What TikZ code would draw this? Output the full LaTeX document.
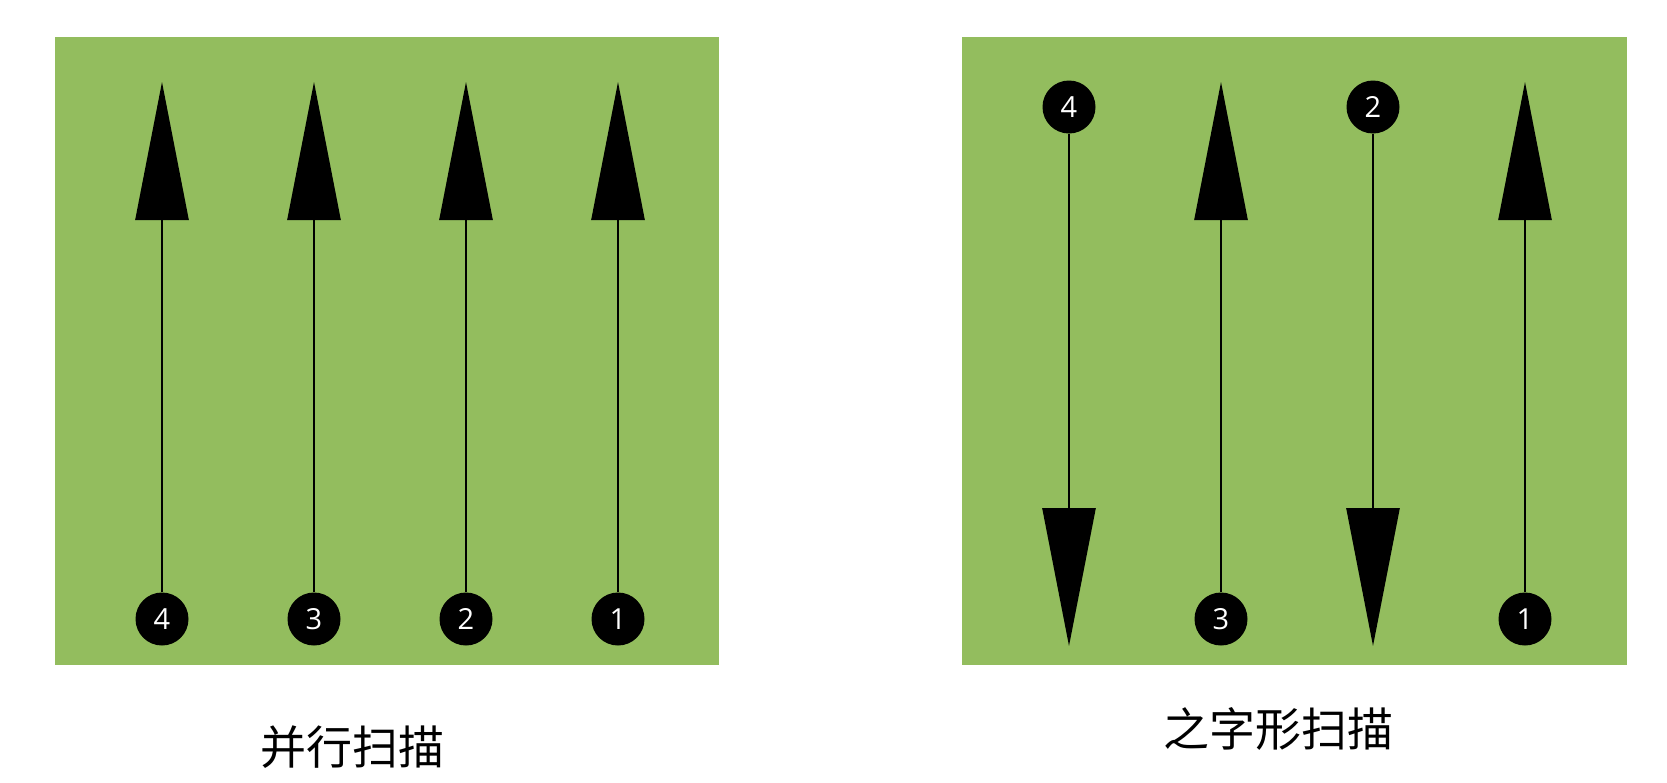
\documentclass[tikz,border=0pt]{standalone}
\usepackage{fontspec}
\newfontfamily\cjk{Noto Sans CJK SC}
\newfontfamily\numfont{Open Sans}
\usepackage{tikz}
\usetikzlibrary{arrows.meta}
\definecolor{scangreen}{RGB}{147,189,94}

\begin{document}
\begin{tikzpicture}[x=1pt,y=-1pt,
  pt/.style={circle,fill=black,minimum size=53pt,inner sep=0pt,text=white,font=\numfont\fontsize{29}{30}\selectfont},
  scan/.style={line width=2.6pt,-{Triangle[length=138pt,width=53pt]}},
  lbl/.style={font=\cjk\fontsize{46}{50}\selectfont}]
\useasboundingbox (0,0) rectangle (1667,782);
\fill[scangreen] (55,37) rectangle (719,665);
\fill[scangreen] (962,37) rectangle (1627,665);

\node[pt] (a4) at (162,619) {4};
\node[pt] (a3) at (314,619) {3};
\node[pt] (a2) at (466,619) {2};
\node[pt] (a1) at (618,619) {1};
\coordinate (a4e) at (162,82);
\coordinate (a3e) at (314,82);
\coordinate (a2e) at (466,82);
\coordinate (a1e) at (618,82);
\draw[scan] (a4) -- (a4e);
\draw[scan] (a3) -- (a3e);
\draw[scan] (a2) -- (a2e);
\draw[scan] (a1) -- (a1e);

\node[pt] (b4) at (1069,107) {4};
\node[pt] (b3) at (1221,619) {3};
\node[pt] (b2) at (1373,107) {2};
\node[pt] (b1) at (1525,619) {1};
\coordinate (b4e) at (1069,646);
\coordinate (b3e) at (1221,82);
\coordinate (b2e) at (1373,646);
\coordinate (b1e) at (1525,82);
\draw[scan] (b4) -- (b4e);
\draw[scan] (b3) -- (b3e);
\draw[scan] (b2) -- (b2e);
\draw[scan] (b1) -- (b1e);

\node[lbl] (parallel) at (352,747) {并行扫描};
\node[lbl] (zigzag) at (1278,729) {之字形扫描};
\end{tikzpicture}
\end{document}
